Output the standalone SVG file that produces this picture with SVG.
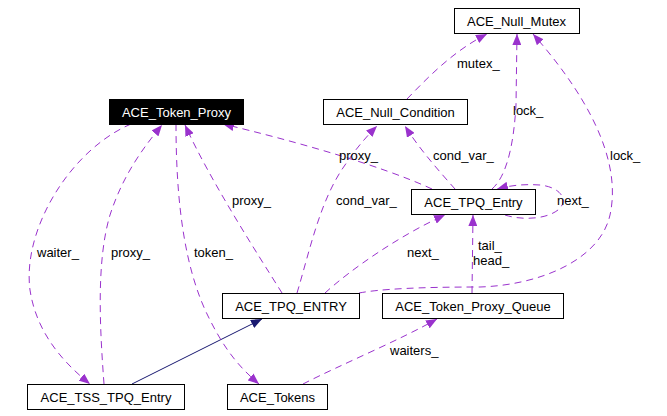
<svg xmlns="http://www.w3.org/2000/svg" width="667" height="416" viewBox="0 0 667 416">
<style>
.box{fill:#fff;stroke:#000;stroke-width:1}
.nt{font-family:"Liberation Sans",Arial,sans-serif;font-size:13px;text-anchor:middle;fill:#000}
.lb{font-family:"Liberation Sans",Arial,sans-serif;font-size:13px;fill:#000}
.use{fill:none;stroke:#9a32cd;stroke-width:1;stroke-dasharray:7,5}
.inh{fill:none;stroke:#191970;stroke-width:1}
</style>
<defs>
<marker id="ap" viewBox="0 0 11 9" refX="11" refY="4.5" markerWidth="11" markerHeight="9" markerUnits="userSpaceOnUse" orient="auto"><path d="M0,0 L11,4.5 L0,9 z" fill="#9a32cd"/></marker>
<marker id="an" viewBox="0 0 11 9" refX="11" refY="4.5" markerWidth="11" markerHeight="9" markerUnits="userSpaceOnUse" orient="auto"><path d="M0,0 L11,4.5 L0,9 z" fill="#191970"/></marker>
</defs>
<rect width="667" height="416" fill="#fff"/>
<g id="edges">
<path class="inh" d="M132,384 L262,319" marker-end="url(#an)"/>
<path class="use" d="M131,124 C70,150 22,230 30,290 C36,330 60,360 90,384" marker-end="url(#ap)"/>
<path class="use" d="M104,384 C100,330 96,262 110,215 C123,175 143,148 162,125" marker-end="url(#ap)"/>
<path class="use" d="M176,124 C176,200 184,270 210,320 C225,350 240,368 259,384" marker-end="url(#ap)"/>
<path class="use" d="M282,293 C255,250 210,180 185,125" marker-end="url(#ap)"/>
<path class="use" d="M297,293 C310,250 320,200 345,165 C355,150 365,138 377,126" marker-end="url(#ap)"/>
<path class="use" d="M432,189 C380,165 290,140 223,124" marker-end="url(#ap)"/>
<path class="use" d="M455,189 C440,172 420,150 405,126" marker-end="url(#ap)"/>
<path class="use" d="M407,99 C430,75 455,50 487,34" marker-end="url(#ap)"/>
<path class="use" d="M492,189 C508,175 514,140 516,105 L517,34" marker-end="url(#ap)"/>
<path class="use" d="M359,293 C380,289 420,287 480,287 C540,285 600,260 610,215 C620,170 600,110 533,34" marker-end="url(#ap)"/>
<path class="use" d="M505,215 C520,220 545,220 558,210 C570,200 560,187 540,185 C525,184 512,185 497,189" marker-end="url(#ap)"/>
<path class="use" d="M325,293 C350,270 400,235 445,215" marker-end="url(#ap)"/>
<path class="use" d="M472,293 L473,215" marker-end="url(#ap)"/>
<path class="use" d="M303,384 C340,365 400,340 437,319" marker-end="url(#ap)"/>
</g>
<g id="labels">
<text class="lb" x="37" y="257">waiter_</text>
<text class="lb" x="111" y="257">proxy_</text>
<text class="lb" x="194" y="257">token_</text>
<text class="lb" x="232" y="205">proxy_</text>
<text class="lb" x="336" y="205">cond_var_</text>
<text class="lb" x="339" y="160">proxy_</text>
<text class="lb" x="433" y="160">cond_var_</text>
<text class="lb" x="457" y="68">mutex_</text>
<text class="lb" x="513" y="115">lock_</text>
<text class="lb" x="610" y="160">lock_</text>
<text class="lb" x="557" y="205">next_</text>
<text class="lb" x="407" y="257">next_</text>
<text class="lb" x="478" y="250">tail_</text>
<text class="lb" x="473" y="265">head_</text>
<text class="lb" x="390" y="355">waiters_</text>
</g>
<g id="ACE_Token_Proxy"><rect x="109.5" y="99.5" width="134" height="25" fill="#000" stroke="#000"/><text class="nt" x="176.5" y="116.5" style="fill:#fff">ACE_Token_Proxy</text></g>
<g id="ACE_Null_Mutex"><rect class="box" x="454.5" y="8.5" width="125" height="25"/><text class="nt" x="516.5" y="25.5">ACE_Null_Mutex</text></g>
<g id="ACE_Null_Condition"><rect class="box" x="323.5" y="99.5" width="144" height="25"/><text class="nt" x="395.5" y="116.5">ACE_Null_Condition</text></g>
<g id="ACE_TPQ_Entry"><rect class="box" x="411.5" y="189.5" width="124" height="25"/><text class="nt" x="473.5" y="206.5">ACE_TPQ_Entry</text></g>
<g id="ACE_TPQ_ENTRY"><rect class="box" x="222.5" y="293.5" width="137" height="25"/><text class="nt" x="291" y="310.5">ACE_TPQ_ENTRY</text></g>
<g id="ACE_Token_Proxy_Queue"><rect class="box" x="382.5" y="293.5" width="181" height="25"/><text class="nt" x="473" y="310.5">ACE_Token_Proxy_Queue</text></g>
<g id="ACE_TSS_TPQ_Entry"><rect class="box" x="27.5" y="384.5" width="157" height="25"/><text class="nt" x="106" y="401.5">ACE_TSS_TPQ_Entry</text></g>
<g id="ACE_Tokens"><rect class="box" x="227.5" y="384.5" width="100" height="25"/><text class="nt" x="277.5" y="401.5">ACE_Tokens</text></g>
</svg>
